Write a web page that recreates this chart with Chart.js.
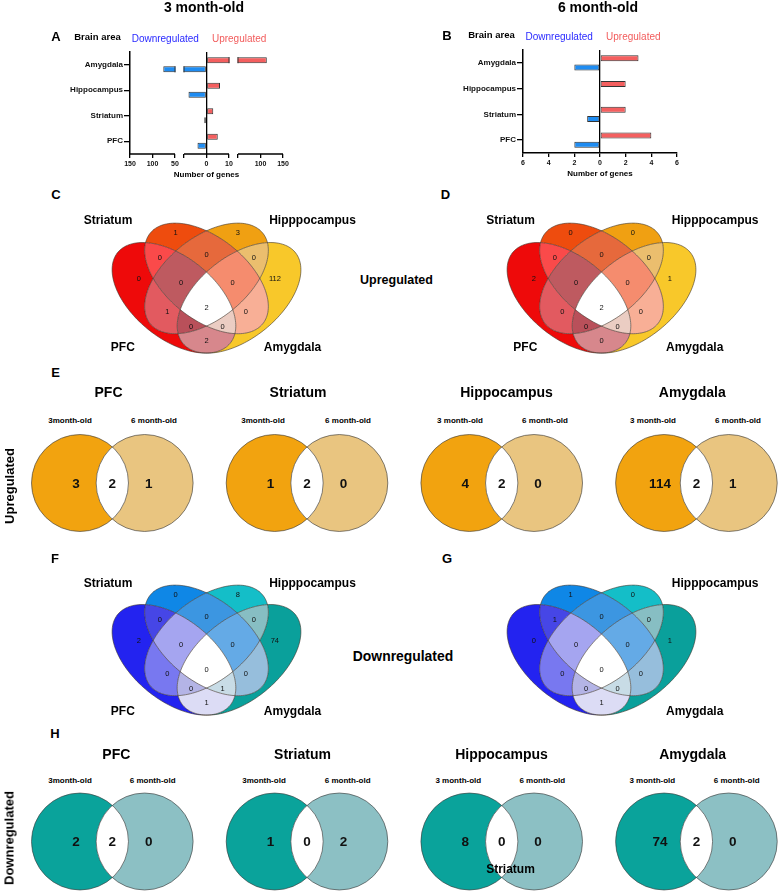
<!DOCTYPE html>
<html>
<head>
<meta charset="utf-8">
<script src="https://cdn.jsdelivr.net/npm/chart.js@4.4.1/dist/chart.umd.min.js"></script>
<style>
  body { margin: 0; background: #fff; }
  #page { position: relative; width: 778px; height: 892px; overflow: hidden; font-family: "Liberation Sans", Arial, sans-serif; color: #000; }
  #page canvas { position: absolute; }
  .t { position: absolute; white-space: nowrap; transform: translate(-50%, -50%); line-height: 1; }
</style>
</head>
<body>
<div id="page"></div>
<script>
"use strict";
// ---- data ----
const areas = ['Amygdala', 'Hippocampus', 'Striatum', 'PFC'];
const up3 = [114, 6, 3, 5];
const down3 = [76, 8, 1, 4];
const up6 = [3, 2, 2, 4];
const down6 = [2, 0, 1, 2];
const ticks3 = [-150, -100, -50, -10, 0, 10, 50, 100, 150];
const ticks3Labelled = [-150, -100, -50, 0, 10, 100, 150];
const breaks3 = [[-150, -50], [-10, 10], [50, 150]];
const ticks6 = [-6, -4, -2, 0, 2, 4, 6];

// four-set Venn regions (P = PFC, S = Striatum, H = Hippocampus, A = Amygdala)
const regionKeys = ['S', 'H', 'P', 'A', 'PS', 'SH', 'HA', 'PSH', 'SHA', 'PSHA', 'PH', 'SA', 'PHA', 'PSA', 'PA'];
const upVenn3 = [1, 3, 0, 112, 0, 0, 0, 0, 0, 2, 1, 0, 0, 0, 2];
const upVenn6 = [0, 0, 2, 1, 0, 0, 0, 0, 0, 2, 0, 0, 0, 0, 0];
const downVenn3 = [0, 8, 2, 74, 0, 0, 0, 0, 0, 0, 0, 0, 0, 1, 1];
const downVenn6 = [1, 0, 0, 1, 1, 0, 0, 0, 0, 0, 0, 0, 0, 0, 1];

// two-set Venn, 3 month-old vs 6 month-old
const pairAreas = ['PFC', 'Striatum', 'Hippocampus', 'Amygdala'];
const upOnly3 = [3, 1, 4, 114];
const upBoth = [2, 2, 2, 2];
const upOnly6 = [1, 0, 0, 1];
const downOnly3 = [2, 1, 8, 74];
const downBoth = [2, 0, 0, 2];
const downOnly6 = [0, 2, 0, 0];

// ---- layout / style ----
const F = '"Liberation Sans", Arial, sans-serif';
const RED = '#f45f5f', BLUE = '#1e8cf2', EDGE = '#333';
const setNames = ['P', 'S', 'H', 'A'];
const ellipseShape = { P: [0.35, 0.47, 135], S: [0.5, 0.57, 135], H: [0.5, 0.57, 45], A: [0.65, 0.47, 45] };
const EA = 0.35, EB = 0.2;
const vennLabelAt = {
  S: [0.357, 0.802], H: [0.644, 0.802], P: [0.188, 0.566], A: [0.815, 0.566],
  PS: [0.285, 0.676], SH: [0.5, 0.69], HA: [0.718, 0.676], PSH: [0.383, 0.547], SHA: [0.62, 0.547],
  PSHA: [0.5, 0.42], PH: [0.319, 0.395], SA: [0.681, 0.395], PHA: [0.429, 0.32], PSA: [0.574, 0.32], PA: [0.5, 0.248]
};
const upPalette = {
  P: '#ee0a0a', S: '#ee4c0e', H: '#f0a012', A: '#f8c82a', PS: '#fa4a4a', SH: '#e6693c', HA: '#ebbe6e',
  PSH: '#be5a60', SHA: '#f58c6e', PSHA: '#ffffff', PH: '#e25a60', SA: '#f8af96', PHA: '#b9505a', PSA: '#ebcdc3', PA: '#d7878c'
};
const downPalette = {
  P: '#2323f0', S: '#0f87e6', H: '#14bec8', A: '#0aa09b', PS: '#4646e6', SH: '#3c96e1', HA: '#87bec3',
  PSH: '#a5a5f0', SHA: '#64aae6', PSHA: '#ffffff', PH: '#7878f0', SA: '#96bedc', PHA: '#b4b4e6', PSA: '#c8dce6', PA: '#dcdcf5'
};
const pairR = 0.249, pairD = 0.166, pairLabelOff = 0.187;

Chart.defaults.font.family = F;
Chart.defaults.color = '#000';

const page = document.getElementById('page');

function mkCanvas(x, y, w, h) {
  const c = document.createElement('canvas');
  c.width = w; c.height = h;
  c.style.left = x + 'px'; c.style.top = y + 'px';
  c.style.width = w + 'px'; c.style.height = h + 'px';
  page.appendChild(c);
  return c;
}

function label(text, x, y, size, opt = {}) {
  const d = document.createElement('div');
  d.className = 't';
  d.textContent = text;
  d.style.left = x + 'px';
  d.style.top = y + 'px';
  d.style.fontSize = size + 'px';
  d.style.fontWeight = opt.normal ? 'normal' : 'bold';
  if (opt.color) d.style.color = opt.color;
  if (opt.rotate) d.style.transform = 'translate(-50%, -50%) rotate(-90deg)';
  page.appendChild(d);
}

// linear scale with breaks (segments of equal width, small gaps in between)
class BrokenScale extends Chart.LinearScale {
  buildTicks() {
    return ticks3.map(value => ({ value }));
  }
  segPixels() {
    const gap = 9, n = breaks3.length;
    const w = (this.width - gap * (n - 1)) / n;
    return breaks3.map((s, i) => [this.left + i * (w + gap), this.left + i * (w + gap) + w]);
  }
  getPixelForValue(value) {
    const px = this.segPixels();
    if (value <= breaks3[0][0]) return px[0][0];
    for (let i = 0; i < breaks3.length; i++) {
      const [a, b] = breaks3[i];
      if (value <= b) {
        if (value >= a) return px[i][0] + (value - a) / (b - a) * (px[i][1] - px[i][0]);
        const pb = breaks3[i - 1][1];
        return px[i - 1][1] + (value - pb) / (a - pb) * (px[i][0] - px[i - 1][1]);
      }
    }
    return px[px.length - 1][1];
  }
  getValueForPixel(pixel) {
    const px = this.segPixels();
    for (let i = 0; i < breaks3.length; i++) {
      if (pixel <= px[i][1]) {
        const [a, b] = breaks3[i];
        return a + Math.max(0, pixel - px[i][0]) / (px[i][1] - px[i][0]) * (b - a);
      }
    }
    return breaks3[breaks3.length - 1][1];
  }
}
BrokenScale.id = 'broken';
BrokenScale.defaults = {};
Chart.register(BrokenScale);

const brokenAxisPlugin = {
  id: 'brokenAxis',
  afterDatasetsDraw(chart) {
    const x = chart.scales.x, ctx = chart.ctx;
    ctx.save();
    for (let i = 1; i < breaks3.length; i++) {
      const g0 = x.getPixelForValue(breaks3[i - 1][1]);
      const g1 = x.getPixelForValue(breaks3[i][0]);
      chart.data.datasets.forEach((ds, di) => {
        chart.getDatasetMeta(di).data.forEach(bar => {
          const lo = Math.min(bar.x, bar.base), hi = Math.max(bar.x, bar.base);
          if (lo < g0 && hi > g1) {
            const y0 = bar.y - bar.height / 2, y1 = bar.y + bar.height / 2;
            ctx.fillStyle = '#fff';
            ctx.fillRect(g0 + 0.5, y0 - 1, g1 - g0 - 1, bar.height + 2);
            ctx.strokeStyle = EDGE;
            ctx.lineWidth = 1;
            ctx.beginPath();
            ctx.moveTo(g0, y0); ctx.lineTo(g0, y1);
            ctx.moveTo(g1, y0); ctx.lineTo(g1, y1);
            ctx.stroke();
          }
        });
      });
    }
    ctx.strokeStyle = '#000';
    ctx.lineWidth = 1.5;
    const yb = chart.chartArea.bottom;
    breaks3.forEach(([a, b]) => {
      ctx.beginPath();
      ctx.moveTo(x.getPixelForValue(a), yb);
      ctx.lineTo(x.getPixelForValue(b), yb);
      ctx.stroke();
    });
    ctx.restore();
  }
};

function barDatasets(up, down) {
  const common = { borderColor: EDGE, borderWidth: 1, borderSkipped: false, categoryPercentage: 0.72, barPercentage: 0.66 };
  return [
    Object.assign({ label: 'Upregulated', data: up, backgroundColor: RED }, common),
    Object.assign({ label: 'Downregulated', data: down.map(v => -v), backgroundColor: BLUE }, common)
  ];
}

function yAreaScale(width) {
  return {
    type: 'category', offset: true,
    afterFit: s => { s.width = width; },
    grid: { offset: false, drawOnChartArea: false, tickLength: 6, color: '#000', tickColor: '#000', lineWidth: 1.3 },
    border: { color: '#000', width: 1.5 },
    ticks: { padding: 1, font: { size: 8, weight: 'bold' }, color: '#111' }
  };
}

const zeroLine = c => (c.tick && c.tick.value === 0 ? '#000' : 'rgba(0,0,0,0)');

// ---- A : 3 month-old bars ----
new Chart(mkCanvas(0, 0, 390, 185), {
  type: 'bar',
  data: { labels: areas, datasets: barDatasets(up3, down3) },
  options: {
    indexAxis: 'y', responsive: false, animation: false, events: [],
    layout: { padding: { top: 52, right: 107, bottom: 0, left: 0 } },
    plugins: { legend: { display: false }, tooltip: { enabled: false } },
    scales: {
      y: yAreaScale(130),
      x: {
        type: 'broken', min: -150, max: 150,
        afterFit: s => { s.height = 31; },
        border: { display: false },
        grid: { color: zeroLine, tickColor: '#000', tickLength: 4, lineWidth: 1.3 },
        ticks: { autoSkip: false, maxRotation: 0, padding: 1.5, font: { size: 7, weight: 'bold' }, color: '#111',
          callback: v => (ticks3Labelled.includes(v) ? String(Math.abs(v)) : '') },
        title: { display: true, text: 'Number of genes', font: { size: 8, weight: 'bold' }, padding: { top: 0, bottom: 5 } }
      }
    }
  },
  plugins: [brokenAxisPlugin]
});

// ---- B : 6 month-old bars ----
new Chart(mkCanvas(390, 0, 388, 185), {
  type: 'bar',
  data: { labels: areas, datasets: barDatasets(up6, down6) },
  options: {
    indexAxis: 'y', responsive: false, animation: false, events: [],
    layout: { padding: { top: 50, right: 101, bottom: 0, left: 0 } },
    plugins: { legend: { display: false }, tooltip: { enabled: false } },
    scales: {
      y: yAreaScale(133),
      x: {
        type: 'linear', min: -6, max: 6,
        afterFit: s => { s.height = 32; },
        afterBuildTicks: s => { s.ticks = ticks6.map(value => ({ value })); },
        border: { color: '#000', width: 1.5 },
        grid: { color: zeroLine, tickColor: '#000', tickLength: 4, lineWidth: 1.3 },
        ticks: { autoSkip: false, maxRotation: 0, padding: 1.5, font: { size: 7, weight: 'bold' }, color: '#111',
          callback: v => String(Math.abs(v)) },
        title: { display: true, text: 'Number of genes', font: { size: 8, weight: 'bold' }, padding: { top: 0, bottom: 6 } }
      }
    }
  }
});

// ---- four-set Venn diagrams ----
function venn4Plugin(counts, palette) {
  return {
    id: 'venn4',
    afterDatasetsDraw(chart) {
      const ctx = chart.ctx, xs = chart.scales.x, ys = chart.scales.y;
      const path = s => {
        const [cx, cy, rot] = ellipseShape[s], t = rot * Math.PI / 180;
        for (let k = 0; k <= 160; k++) {
          const a = k / 160 * 2 * Math.PI;
          const ux = cx + EA * Math.cos(a) * Math.cos(t) - EB * Math.sin(a) * Math.sin(t);
          const uy = cy + EA * Math.cos(a) * Math.sin(t) + EB * Math.sin(a) * Math.cos(t);
          const px = xs.getPixelForValue(ux), py = ys.getPixelForValue(uy);
          if (k) ctx.lineTo(px, py); else ctx.moveTo(px, py);
        }
        ctx.closePath();
      };
      regionKeys.forEach(key => {
        ctx.save();
        setNames.forEach(s => {
          const inside = key.includes(s);
          ctx.beginPath();
          if (!inside) ctx.rect(0, 0, chart.width, chart.height);
          path(s);
          ctx.clip(inside ? 'nonzero' : 'evenodd');
        });
        ctx.fillStyle = palette[key];
        ctx.fillRect(0, 0, chart.width, chart.height);
        ctx.restore();
      });
      ctx.save();
      ctx.strokeStyle = 'rgba(60,50,40,0.85)';
      ctx.lineWidth = 0.7;
      setNames.forEach(s => { ctx.beginPath(); path(s); ctx.stroke(); });
      ctx.restore();
      const meta = chart.getDatasetMeta(0);
      ctx.save();
      ctx.font = '7.5px ' + F;
      ctx.fillStyle = '#111';
      ctx.textAlign = 'center';
      ctx.textBaseline = 'middle';
      meta.data.forEach((pt, i) => ctx.fillText(String(counts[i]), pt.x, pt.y));
      ctx.restore();
    }
  };
}

function vennChart(x, y, counts, palette) {
  return new Chart(mkCanvas(x, y, 217, 194), {
    type: 'scatter',
    data: { datasets: [{ data: regionKeys.map(k => ({ x: vennLabelAt[k][0], y: vennLabelAt[k][1] })), pointRadius: 0 }] },
    options: {
      responsive: false, animation: false, events: [],
      layout: { padding: 0 },
      plugins: { legend: { display: false }, tooltip: { enabled: false } },
      scales: { x: { type: 'linear', min: 0, max: 1, display: false }, y: { type: 'linear', min: 0, max: 1, display: false } }
    },
    plugins: [venn4Plugin(counts, palette)]
  });
}

vennChart(98, 195, upVenn3, upPalette);
vennChart(493, 195, upVenn6, upPalette);
vennChart(98, 557, downVenn3, downPalette);
vennChart(493, 557, downVenn6, downPalette);

// ---- two-set Venn rows ----
function pairPlugin(only3, both, only6, colors) {
  return {
    id: 'pairVenn',
    afterDatasetsDraw(chart) {
      const ctx = chart.ctx, xs = chart.scales.x, ys = chart.scales.y;
      const r = xs.getPixelForValue(pairR) - xs.getPixelForValue(0);
      const cy = ys.getPixelForValue(0);
      only3.forEach((n, i) => {
        const c1 = xs.getPixelForValue(i - pairD), c2 = xs.getPixelForValue(i + pairD);
        const circ = cx => { ctx.beginPath(); ctx.arc(cx, cy, r, 0, 2 * Math.PI); };
        ctx.save();
        circ(c1); ctx.fillStyle = colors[0]; ctx.fill();
        circ(c2); ctx.fillStyle = colors[1]; ctx.fill();
        circ(c1); ctx.clip();
        circ(c2); ctx.fillStyle = '#fff'; ctx.fill();
        ctx.restore();
        ctx.save();
        ctx.strokeStyle = 'rgba(60,60,60,0.8)';
        ctx.lineWidth = 0.8;
        circ(c1); ctx.stroke();
        circ(c2); ctx.stroke();
        ctx.restore();
        ctx.save();
        ctx.font = 'bold 13.5px ' + F;
        ctx.fillStyle = '#111';
        ctx.textAlign = 'center';
        ctx.textBaseline = 'middle';
        ctx.fillText(String(n), xs.getPixelForValue(i - pairLabelOff), cy + 1);
        ctx.fillText(String(both[i]), xs.getPixelForValue(i), cy + 1);
        ctx.fillText(String(only6[i]), xs.getPixelForValue(i + pairLabelOff), cy + 1);
        ctx.restore();
      });
    }
  };
}

function pairChart(y, h, only3, both, only6, colors) {
  return new Chart(mkCanvas(0, y, 778, h), {
    type: 'scatter',
    data: { datasets: [{ data: pairAreas.map((a, i) => ({ x: i, y: 0 })), pointRadius: 0 }] },
    options: {
      responsive: false, animation: false, events: [],
      layout: { padding: 0 },
      plugins: { legend: { display: false }, tooltip: { enabled: false } },
      scales: {
        x: { type: 'linear', min: -0.5768, max: 3.419, display: false },
        y: { type: 'linear', min: -1, max: 1, display: false }
      }
    },
    plugins: [pairPlugin(only3, both, only6, colors)]
  });
}

pairChart(432, 102, upOnly3, upBoth, upOnly6, ['#f2a30f', '#e9c580']);
pairChart(791, 101, downOnly3, downBoth, downOnly6, ['#0aa39b', '#8cc0c4']);

// ---- text ----
label('3 month-old', 204, 7, 14);
label('6 month-old', 598, 7, 14);
label('A', 56, 35.5, 13);
label('Brain area', 97.5, 36.5, 9.5);
label('Downregulated', 165.3, 38.8, 10, { normal: true, color: '#2a2aff' });
label('Upregulated', 239.2, 38.8, 10, { normal: true, color: '#f25c5c' });
label('B', 447, 35, 13);
label('Brain area', 491.5, 35, 9.5);
label('Downregulated', 559.2, 37, 10, { normal: true, color: '#2a2aff' });
label('Upregulated', 633.3, 37, 10, { normal: true, color: '#f25c5c' });

label('C', 56, 194, 13);
label('D', 445.5, 194, 13);
label('Striatum', 108, 219.5, 12);
label('Hipppocampus', 312.5, 219.5, 12);
label('PFC', 122.8, 347, 12);
label('Amygdala', 292.5, 347, 12);
label('Striatum', 510.5, 219.5, 12);
label('Hipppocampus', 715.2, 219.5, 12);
label('PFC', 525.3, 347, 12);
label('Amygdala', 694.7, 347, 12);
label('Upregulated', 396.5, 280, 12.5);

label('E', 55.5, 372, 13);
[['PFC', 108.5], ['Striatum', 298], ['Hippocampus', 506.5], ['Amygdala', 692.3]].forEach(([t, x]) => label(t, x, 392, 14));
[['3month-old', 70], ['6 month-old', 154], ['3month-old', 263], ['6 month-old', 348],
 ['3 month-old', 460], ['6 month-old', 545], ['3 month-old', 653], ['6 month-old', 738]].forEach(([t, x]) => label(t, x, 421, 8));
label('Upregulated', 8.5, 485.5, 13, { rotate: true });

label('F', 55, 558, 13);
label('G', 447, 557.7, 13);
label('Striatum', 108, 582.5, 12);
label('Hipppocampus', 312.5, 582.5, 12);
label('PFC', 122.8, 710.5, 12);
label('Amygdala', 292.5, 710.5, 12);
label('Hipppocampus', 715.2, 582.5, 12);
label('Amygdala', 694.7, 710.5, 12);
label('Downregulated', 403, 657, 13.9);

label('H', 55, 732.5, 13);
[['PFC', 116.3], ['Striatum', 302.5], ['Hippocampus', 501.5], ['Amygdala', 692.7]].forEach(([t, x]) => label(t, x, 754, 14));
[['3month-old', 70], ['6 month-old', 152.7], ['3month-old', 264], ['6 month-old', 347.7],
 ['3 month-old', 458.3], ['6 month-old', 542.3], ['3 month-old', 652.3], ['6 month-old', 736.7]].forEach(([t, x]) => label(t, x, 780.7, 8));
label('Downregulated', 8.5, 838, 13, { rotate: true });
label('Striatum', 510.5, 868.5, 12);
</script>
</body>
</html>
